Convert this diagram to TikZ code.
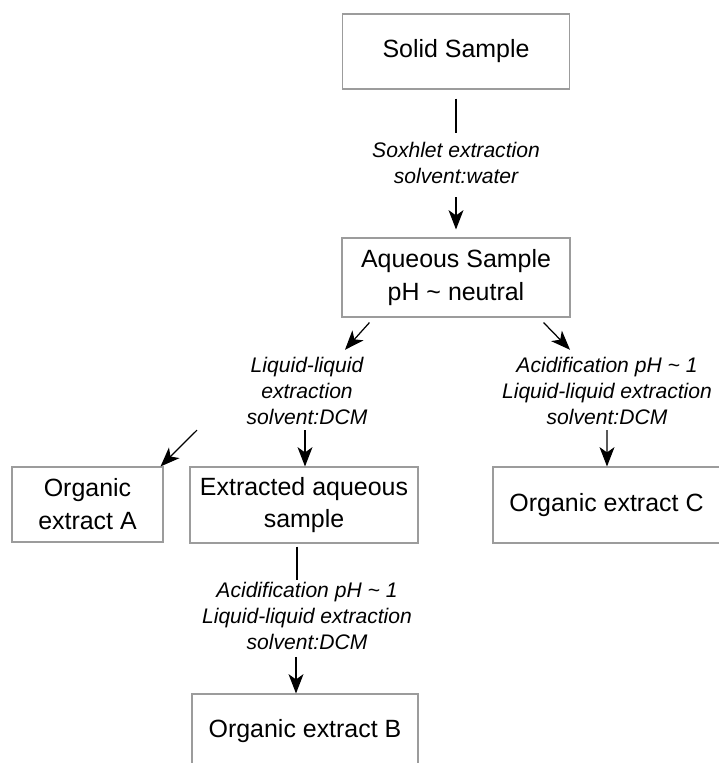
\documentclass[tikz,border=0pt]{standalone}
\usepackage{fontspec}
\setmainfont{Liberation Sans}
\usetikzlibrary{arrows.meta}
\definecolor{boxgray}{HTML}{9C9C9C}
\newlength\px
\setlength\px{0.02cm}
\begin{document}
\begin{tikzpicture}[x=0.02cm,y=-0.02cm,
  box/.style={draw=boxgray,line width=0.6pt,align=center,inner sep=0pt,
    font=\fontsize{14.2}{18.7}\selectfont},
  lbl/.style={align=center,inner sep=0pt,font=\fontsize{12}{14.7}\selectfont\itshape},
  arr/.style={-{Stealth[length=11pt,width=8.5pt,inset=3pt]},line width=0.7pt},
  plain/.style={line width=0.7pt}]
\useasboundingbox (0,0) rectangle (719,763);
\clip (0,0) rectangle (719,763);

% boxes
\node[box,minimum width=227\px,minimum height=75\px] (solid) at (456,51.5) {Solid Sample};
\node[box,minimum width=228\px,minimum height=79\px] (aq) at (456,277.5) {Aqueous Sample\\pH \textasciitilde{} neutral};
\node[box,minimum width=151\px,minimum height=75\px] (orgA) at (87.5,504.5) {Organic\\extract A};
\node[box,minimum width=228\px,minimum height=76\px] (ext) at (304,505) {Extracted aqueous\\sample};
\node[box,minimum width=226\px,minimum height=75\px] (orgB) at (305,731.5) {Organic extract B};
\node[box,minimum width=227\px,minimum height=76\px] (orgC) at (606.5,505) {Organic extract C};

% step labels
\node[lbl] (sox) at (456,162.7) {Soxhlet extraction\\solvent:water};
\node[lbl] (lle) at (307,390.7) {Liquid-liquid\\extraction\\solvent:DCM};
\node[lbl] (acidC) at (607,390.7) {Acidification pH \textasciitilde{} 1\\Liquid-liquid extraction\\solvent:DCM};
\node[lbl] (acidB) at (307,616) {Acidification pH \textasciitilde{} 1\\Liquid-liquid extraction\\solvent:DCM};

% connectors
\draw[plain] ([yshift=-9\px]solid.south) -- ([yshift=9\px]sox.north);
\draw[arr] ([yshift=-13.5\px]sox.south) -- ([yshift=8\px]aq.north);
\draw[arr] ([xshift=28\px,yshift=-5\px]aq.south west) -- ([xshift=38\px,yshift=7\px]lle.north);
\draw[arr] ([xshift=-27\px,yshift=-5\px]aq.south east) -- ([xshift=-37\px,yshift=7\px]acidC.north);
\draw[arr] ([xshift=-2\px,yshift=-5.5\px]lle.south) -- ([xshift=1\px]ext.north);
\draw[arr] ([xshift=-110\px,yshift=-5.5\px]lle.south) -- ([xshift=-3\px]orgA.north east);
\draw[arr] ([yshift=-5.5\px]acidC.south) -- ([xshift=0.5\px]orgC.north);
\draw[plain] ([xshift=-7\px,yshift=-3\px]ext.south) -- ([xshift=-10\px,yshift=2\px]acidB.north);
\draw[arr] ([xshift=-11\px,yshift=-7\px]acidB.south) -- ([xshift=-9\px]orgB.north);
\end{tikzpicture}
\end{document}
